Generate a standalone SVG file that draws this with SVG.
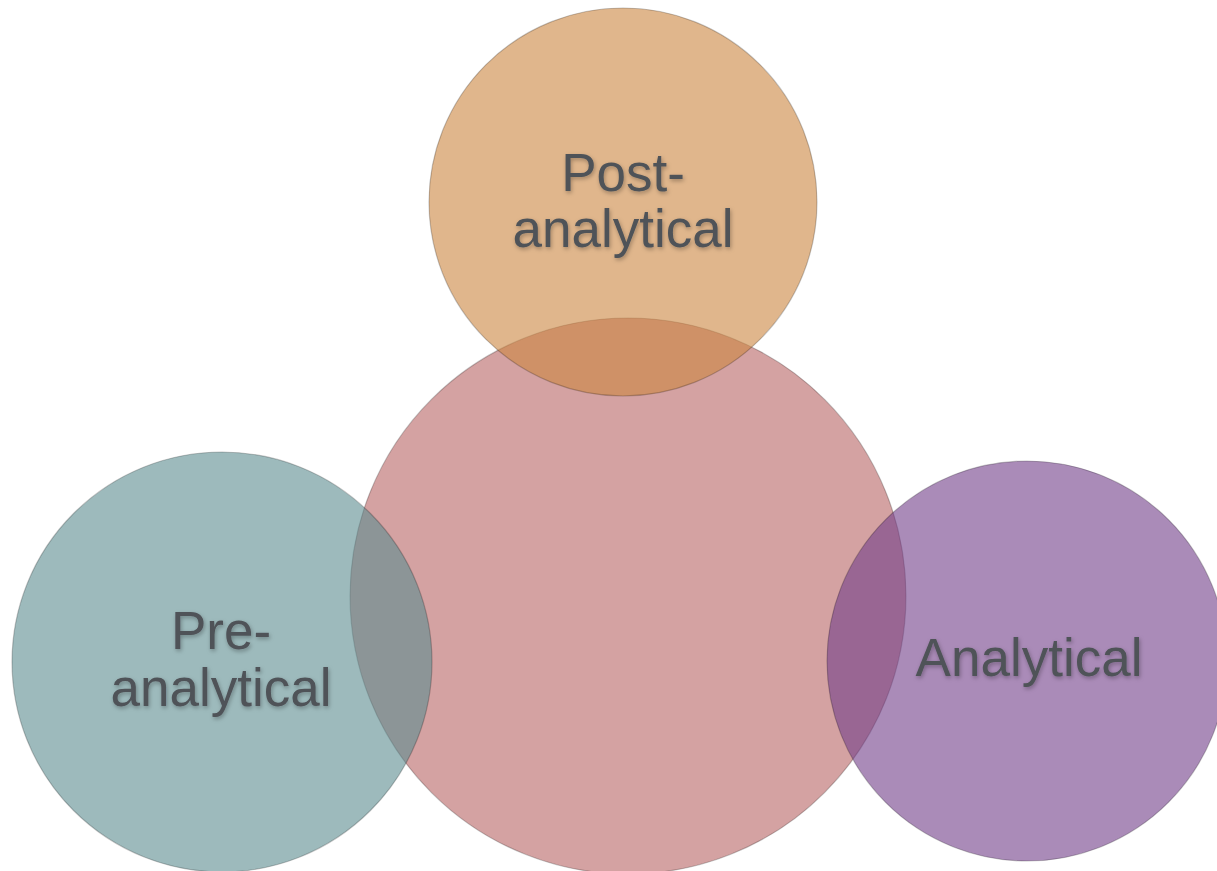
<svg xmlns="http://www.w3.org/2000/svg" width="1217" height="871" viewBox="0 0 1217 871">
<defs>
<filter id="ts" x="-10%" y="-30%" width="120%" height="160%">
<feDropShadow dx="1" dy="2" stdDeviation="2" flood-color="#000" flood-opacity="0.3"/>
</filter>
</defs>
<style>
.c{fill-opacity:0.6;stroke:#000;stroke-opacity:0.22;stroke-width:1.2}
.t{font-family:"Liberation Sans",Arial,sans-serif;font-size:53px;fill:#4F5358;text-anchor:middle;filter:url(#ts)}
</style>
<rect width="1217" height="871" fill="#fff"/>
<g id="center"><circle class="c" cx="628" cy="596" r="278" fill="#B76464"/></g>
<g id="post"><circle class="c" cx="623" cy="202" r="194" fill="#CB853F"/>
<text class="t" x="623" y="191">Post-</text><text class="t" x="623" y="247">analytical</text></g>
<g id="pre"><circle class="c" cx="222" cy="662" r="210" fill="#5C8C8F"/>
<text class="t" x="221" y="649">Pre-</text><text class="t" x="221" y="706">analytical</text></g>
<g id="analytical"><circle class="c" cx="1027" cy="661" r="200" fill="#713E89"/>
<text class="t" x="1029" y="676">Analytical</text></g>
<g id="connectors"></g>
</svg>
